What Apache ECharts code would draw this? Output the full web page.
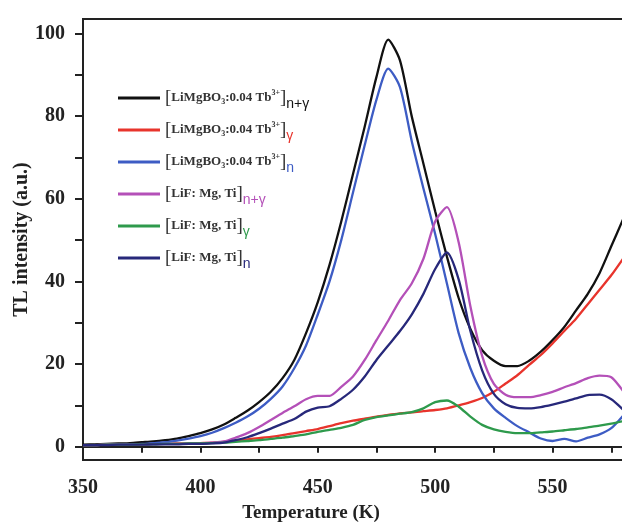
<!DOCTYPE html>
<html>
<head>
<meta charset="utf-8">
<script src="https://cdn.jsdelivr.net/npm/echarts@6/dist/echarts.min.js"></script>
<style>
html,body{margin:0;padding:0;background:#fff;}
#c{width:622px;height:525px;}
</style>
</head>
<body>
<div id="c"></div>
<script>
// Temperature (K)
var temps = [350,355,360,365,370,375,380,385,390,395,400,405,410,415,420,425,430,435,440,445,450,455,460,465,470,475,480,485,490,495,500,505,510,515,520,525,530,535,540,545,550,555,560,565,570,575,580];

// TL intensity (a.u.)
var limgboNG = [0.5,0.6,0.7,0.8,0.9,1.1,1.3,1.6,2.0,2.6, 3.3,4.2,5.4,7.0,8.7,10.8,13.3,16.6,21,27.5, 35,44,54.5,66,77.5,89.5,98.5,93.5,80,68.5, 57,46,36,28.5,23.4,20.8,19.5,19.5,20.8,23, 25.8,29,33,37,42,48.5,55];
var limgboG  = [0.4,0.4,0.5,0.5,0.6,0.6,0.7,0.7,0.8,0.8, 0.9,1.0,1.2,1.5,1.8,2.1,2.4,2.8,3.3,3.8, 4.3,5.0,5.7,6.3,6.8,7.3,7.7,8.1,8.3,8.6, 8.9,9.3,10.0,10.8,11.8,13.3,15.3,17.3,19.8,22.2, 25,28,31,34.5,38,41.5,45.5];
var limgboN  = [0.4,0.4,0.5,0.5,0.6,0.7,0.9,1.1,1.5,2.0, 2.6,3.4,4.5,5.8,7.3,9.2,11.6,14.6,19,24.5, 32,40,50,61.5,73,84,91.5,87,74,62.5, 51.5,39.5,27.5,19,13,9.3,7,5,3.5,2.0, 1.4,1.9,1.3,2.2,3.0,4.5,7.5];
var lifNG    = [0.4,0.4,0.5,0.5,0.5,0.6,0.6,0.7,0.7,0.8, 0.8,1.0,1.3,2.2,3.3,4.8,6.5,8.2,9.8,11.5, 12.3,12.3,14.5,17,21,25.8,30.5,35.5,39.5,45.5, 54.5,58,49.5,34,22,15.2,12.6,12,12,12.5, 13.3,14.4,15.4,16.6,17.2,16.8,13.5];
var lifG     = [0.4,0.4,0.5,0.5,0.5,0.6,0.6,0.7,0.7,0.8, 0.8,0.9,1.0,1.2,1.4,1.6,1.9,2.2,2.6,3.0, 3.6,4.1,4.6,5.3,6.5,7.2,7.6,8.0,8.4,9.3, 10.8,11.2,9.7,7.3,5.3,4.2,3.6,3.3,3.3,3.5, 3.7,4.0,4.3,4.7,5.1,5.6,6.2];
var lifN     = [0.4,0.4,0.4,0.5,0.5,0.5,0.6,0.6,0.6,0.7, 0.7,0.8,1.0,1.6,2.3,3.3,4.4,5.6,6.7,8.5, 9.5,9.8,11.6,13.8,17,21,24.5,28,32,37, 43,47,40.5,28,18.5,12.8,10.3,9.4,9.3,9.6, 10.2,10.9,11.7,12.5,12.6,11.5,9];

var seriesNames = ['[LiMgBO3:0.04 Tb3+]n+γ','[LiMgBO3:0.04 Tb3+]γ','[LiMgBO3:0.04 Tb3+]n','[LiF: Mg, Ti]n+γ','[LiF: Mg, Ti]γ','[LiF: Mg, Ti]n'];
var seriesColors = ['#111111','#e8342c','#3d5cc4','#b450b8','#2e9a4c','#27287a'];
var seriesValues = [limgboNG, limgboG, limgboN, lifNG, lifG, lifN];
var subs = ['n+γ','γ','n','n+γ','γ','n'];

var xLabels = [350,400,450,500,550];
var xTicks = [350,375,400,425,450,475,500,525,550,575];
var yLabels = [0,20,40,60,80,100];
var yTicks = [0,10,20,30,40,50,60,70,80,90,100];

var serif = 'Liberation Serif';
var rich = {
  br: {fontFamily: serif, fontSize: 19, color: '#333', lineHeight: 26, height: 26, verticalAlign: 'middle'},
  t: {fontFamily: serif, fontWeight: 'bold', fontSize: 13, color: '#333', lineHeight: 26, verticalAlign: 'middle'},
  lo: {fontFamily: serif, fontWeight: 'bold', fontSize: 8, color: '#333', lineHeight: 26, height: 19, verticalAlign: 'bottom'},
  up: {fontFamily: serif, fontWeight: 'bold', fontSize: 8, color: '#333', lineHeight: 26, height: 15, verticalAlign: 'top'}
};
seriesColors.forEach(function (c, i) {
  rich['s' + i] = {fontFamily: 'Liberation Sans', fontSize: 14, color: c, lineHeight: 26, height: 14, verticalAlign: 'bottom'};
});

function legendText(name) {
  var i = seriesNames.indexOf(name);
  var body = i < 3
    ? '{br|[}{t|LiMgBO}{lo|3}{t|:0.04 Tb}{up|3+}{br|]}'
    : '{br|[}{t|LiF: Mg, Ti}{br|]}';
  return body + '{s' + i + '|' + subs[i] + '}';
}

var series = seriesNames.map(function (n, i) {
  return {
    name: n,
    type: 'line',
    showSymbol: false,
    smooth: 0.25,
    data: temps.map(function (t, k) { return [t, seriesValues[i][k]]; }),
    lineStyle: {width: 2.3, color: seriesColors[i]},
    itemStyle: {color: seriesColors[i]}
  };
});

var chart = echarts.init(document.getElementById('c'), null, {renderer: 'canvas'});
chart.setOption({
  backgroundColor: '#ffffff',
  animation: false,
  grid: {left: 83, right: -1, top: 19, bottom: 65, outerBoundsMode: 'none', containLabel: false, show: true, borderColor: '#222', borderWidth: 2, backgroundColor: 'transparent'},
  legend: {
    orient: 'vertical',
    left: 113,
    top: 80,
    itemGap: 6,
    itemWidth: 42,
    itemHeight: 3,
    icon: 'rect',
    data: seriesNames,
    formatter: legendText,
    textStyle: {rich: rich, lineHeight: 26, height: 26}
  },
  xAxis: {
    type: 'value',
    min: 350,
    max: 580,
    name: 'Temperature (K)',
    nameLocation: 'middle',
    nameGap: 44,
    nameMoveOverlap: false,
    nameTextStyle: {fontFamily: serif, fontWeight: 'bold', fontSize: 19, color: '#222', padding: [0, 84, 0, 0]},
    axisLine: {show: true, lineStyle: {color: '#222', width: 2}},
    axisTick: {show: true, customValues: xTicks, length: 6, lineStyle: {color: '#222', width: 2}},
    axisLabel: {customValues: xLabels, fontFamily: serif, fontWeight: 'bold', fontSize: 20, color: '#222', margin: 18},
    splitLine: {show: false}
  },
  yAxis: {
    type: 'value',
    min: -3.2,
    max: 103.5,
    name: 'TL intensity (a.u.)',
    nameLocation: 'middle',
    nameGap: 51,
    nameMoveOverlap: false,
    nameTextStyle: {fontFamily: serif, fontWeight: 'bold', fontSize: 20, color: '#222'},
    axisLine: {show: true, lineStyle: {color: '#222', width: 2}},
    axisTick: {show: true, customValues: yTicks, length: 8, lineStyle: {color: '#222', width: 2}},
    axisLabel: {customValues: yLabels, fontFamily: serif, fontWeight: 'bold', fontSize: 20, color: '#222', margin: 18},
    splitLine: {show: false}
  },
  series: series
});
</script>
</body>
</html>
